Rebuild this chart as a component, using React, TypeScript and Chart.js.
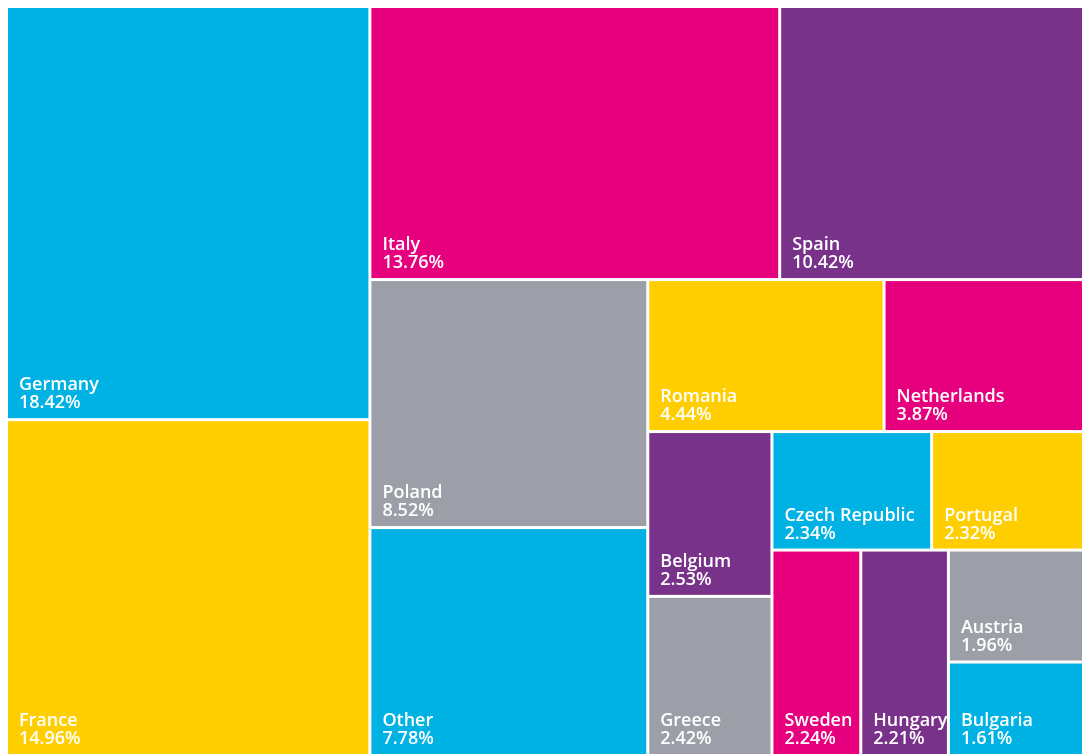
import React, { useEffect, useRef } from "react";
import { Chart, registerables } from "chart.js";

Chart.register(...registerables);

const categories = [
  "Germany", "France", "Italy", "Spain", "Poland", "Other", "Romania", "Netherlands",
  "Belgium", "Greece", "Czech Republic", "Portugal", "Sweden", "Hungary", "Austria", "Bulgaria",
];
const shares = [
  18.42, 14.96, 13.76, 10.42, 8.52, 7.78, 4.44, 3.87,
  2.53, 2.42, 2.34, 2.32, 2.24, 2.21, 1.96, 1.61,
];
// order in which the categories are grouped into strips of the treemap
const strips = [[0, 1], [2, 3], [4, 5], [6, 7], [8, 9], [10, 11], [12], [13], [14, 15]];
const palette = ["#00B2E3", "#FFCE00", "#E6007E", "#78328A", "#9D9FA8"];

type Cell = { i: number; x: number; y: number; w: number; h: number };

function layout(W: number, H: number): Cell[] {
  const total = shares.reduce((a, b) => a + b, 0);
  const area = shares.map((v) => (v / total) * W * H);
  let x = 0, y = 0, w = W, h = H;
  const out: Cell[] = [];
  strips.forEach((strip) => {
    const s = strip.reduce((a, i) => a + area[i], 0);
    const worst = (len: number, thick: number) =>
      Math.max(...strip.map((i) => {
        const l = (area[i] / s) * len;
        return Math.max(l / thick, thick / l);
      }));
    const colW = s / h;
    const rowH = s / w;
    const colWorst = worst(h, colW);
    const rowWorst = worst(w, rowH);
    if (colWorst <= rowWorst) {
      let yy = y;
      strip.forEach((i) => {
        const hh = (area[i] / s) * h;
        out.push({ i, x, y: yy, w: colW, h: hh });
        yy += hh;
      });
      x += colW; w -= colW;
    } else {
      let xx = x;
      strip.forEach((i) => {
        const ww = (area[i] / s) * w;
        out.push({ i, x: xx, y, w: ww, h: rowH });
        xx += ww;
      });
      y += rowH; h -= rowH;
    }
  });
  return out;
}

const treemapPlugin = {
  id: "treemapCells",
  beforeDatasetsDraw(chart: any) {
    const { ctx, chartArea, scales } = chart;
    const xs = scales.x, ys = scales.y;
    const W = chartArea.right - chartArea.left;
    const H = chartArea.bottom - chartArea.top;
    const cells = layout(W, H);
    const gap = 1.5;
    ctx.save();
    cells.forEach((c) => {
      const eps = 0.5;
      let l = xs.getPixelForValue(c.x / W);
      let r = xs.getPixelForValue((c.x + c.w) / W);
      let t = ys.getPixelForValue(c.y / H);
      let b = ys.getPixelForValue((c.y + c.h) / H);
      if (l > chartArea.left + eps) l += gap;
      if (r < chartArea.right - eps) r -= gap;
      if (t > chartArea.top + eps) t += gap;
      if (b < chartArea.bottom - eps) b -= gap;
      ctx.fillStyle = palette[c.i % palette.length];
      ctx.fillRect(l, t, r - l, b - t);
      ctx.fillStyle = "#ffffff";
      ctx.font = '600 18px "Open Sans"';
      ctx.textAlign = "left";
      ctx.textBaseline = "alphabetic";
      ctx.fillText(categories[c.i], l + 11, b - 28);
      ctx.fillText(shares[c.i].toFixed(2) + "%", l + 11, b - 10);
    });
    ctx.restore();
  },
};

export default function App() {
  const ref = useRef<HTMLCanvasElement | null>(null);
  useEffect(() => {
    document.documentElement.style.overflow = "hidden";
    const canvas = ref.current;
    if (!canvas) return;
    const chart = new Chart(canvas, {
      type: "scatter",
      data: {
        labels: categories,
        datasets: [{ data: [], pointRadius: 0, pointHoverRadius: 0, borderWidth: 0 }],
      },
      options: {
        animation: false,
        responsive: false,
        devicePixelRatio: 1,
        layout: { padding: 0, autoPadding: false },
        scales: {
          x: { type: "linear", min: 0, max: 1, display: false },
          y: { type: "linear", min: 0, max: 1, reverse: true, display: false },
        },
        plugins: { legend: { display: false }, tooltip: { enabled: false } },
      },
      plugins: [treemapPlugin],
    });
    return () => chart.destroy();
  }, []);
  return (
    <div style={{ width: 1082, height: 746 }}>
      <canvas ref={ref} width={1082} height={746} style={{ display: "block" }} />
    </div>
  );
}
